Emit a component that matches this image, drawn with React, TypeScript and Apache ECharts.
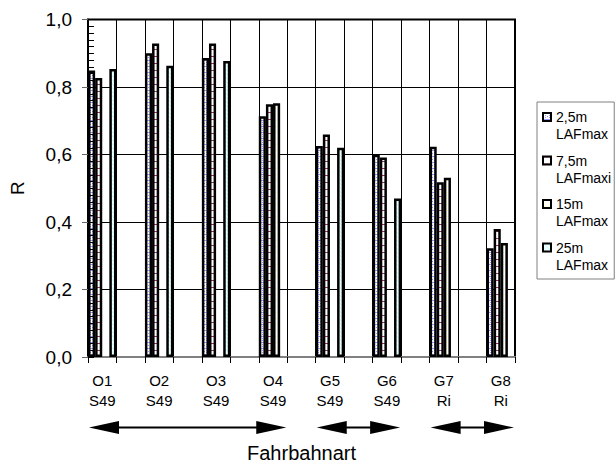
import React, { useEffect, useRef } from 'react';
import * as echarts from 'echarts';

// ---- data ----
const groups = ['O1', 'O2', 'O3', 'O4', 'G5', 'G6', 'G7', 'G8'];
const subLabels = ['S49', 'S49', 'S49', 'S49', 'S49', 'S49', 'Ri', 'Ri'];
const seriesNames = ['2,5m\nLAFmax', '7,5m\nLAFmaxi', '15m\nLAFmax', '25m\nLAFmax'];
const r2_5m = [0.849, 0.900, 0.886, 0.713, 0.625, 0.599, 0.623, 0.322];
const r7_5m = [0.827, 0.929, 0.929, 0.749, 0.659, 0.591, 0.518, 0.379];
const r15m = [null, null, null, 0.752, null, null, 0.531, 0.338];
const r25m = [0.853, 0.863, 0.877, null, 0.620, 0.470, null, null];
const yTickLabels = ['0,0', '0,2', '0,4', '0,6', '0,8', '1,0'];
const arrowSpans = [[0, 3], [4, 5], [6, 7]];

const FONT = 'Liberation Sans, Arial, sans-serif';

function makeTile(w: number, h: number, fg: string, fn: (x: number, y: number) => boolean) {
  const c = document.createElement('canvas');
  c.width = w;
  c.height = h;
  const ctx = c.getContext('2d')!;
  ctx.fillStyle = '#ffffff';
  ctx.fillRect(0, 0, w, h);
  ctx.fillStyle = fg;
  for (let x = 0; x < w; x++) for (let y = 0; y < h; y++) if (fn(x, y)) ctx.fillRect(x, y, 1, 1);
  return { image: c.toDataURL(), repeat: 'repeat', imageWidth: w, imageHeight: h } as any;
}

export default function App() {
  const ref = useRef<HTMLDivElement>(null);
  useEffect(() => {
    document.body.style.margin = '0';
    const chart = echarts.init(ref.current!, undefined, { renderer: 'svg' });

    const cats: string[] = [];
    groups.forEach((g, i) => {
      cats.push(g + '\n' + subLabels[i]);
      if (i < groups.length - 1) cats.push('_' + i);
    });
    const spread = (arr: (number | null)[]) => {
      const out: (number | null)[] = [];
      arr.forEach((v, i) => {
        out.push(v);
        if (i < arr.length - 1) out.push(null);
      });
      return out;
    };

    const patterns = [
      makeTile(4, 6, '#9999FF', (x, y) => (x === 2 && y % 2 === 0) || (y === 0 && x !== 2) || (y === 3 && x === 0)),
      makeTile(4, 7, '#993366', (x, y) => y === 0),
      makeTile(4, 6, '#FFFFCC', (x, y) => (x === 2 && y % 2 === 0) || (y === 0 && x !== 2)),
      makeTile(4, 4, '#CCFFFF', (x, y) => (x - y + 8) % 4 < 2),
    ];
    const values = [r2_5m, r7_5m, r15m, r25m];

    const option: any = {
      animation: false,
      textStyle: { fontFamily: FONT, color: '#000' },
      grid: { left: 86, right: 100, top: 19.5, bottom: 105.5, show: true, borderColor: '#000', borderWidth: 2, containLabel: false },
      legend: {
        orient: 'vertical',
        left: 537,
        top: 102,
        padding: [6.5, 3, 6, 5],
        itemGap: 9.5,
        itemWidth: 8,
        itemHeight: 25,
        icon: 'path://M0,0L8,0L8,8L0,8Z M0,25L0.01,25',
        itemStyle: { borderColor: '#000', borderWidth: 2 },
        borderColor: '#808080',
        borderWidth: 1,
        selectedMode: false,
        textStyle: { fontSize: 14, lineHeight: 17, color: '#000', fontFamily: FONT },
        data: seriesNames,
      },
      xAxis: {
        type: 'category',
        data: cats,
        name: 'Fahrbahnart',
        nameLocation: 'middle',
        nameGap: 86,
        nameTextStyle: { fontSize: 20, color: '#000', fontFamily: FONT },
        axisLine: { lineStyle: { color: '#808080', width: 2 } },
        axisTick: { show: true, interval: 0, length: 6, lineStyle: { color: '#000', width: 1 } },
        splitLine: { show: true, interval: 0, lineStyle: { color: '#000', width: 1 } },
        axisLabel: {
          interval: 0,
          fontSize: 15,
          lineHeight: 20,
          margin: 13,
          color: '#000',
          fontFamily: FONT,
          formatter: (v: string) => (v.charAt(0) === '_' ? '' : v),
        },
      },
      yAxis: [
        {
          type: 'value',
          min: 0,
          max: 1,
          interval: 0.2,
          name: 'R',
          nameLocation: 'middle',
          nameGap: 61,
          nameRotate: 90,
          nameTextStyle: { fontSize: 19, color: '#000', fontFamily: FONT },
          axisLine: { show: true, lineStyle: { color: '#000', width: 2 } },
          axisTick: { show: true, length: 6, lineStyle: { color: '#666', width: 1 } },
          axisLabel: {
            fontSize: 19,
            margin: 16,
            color: '#000',
            fontFamily: FONT,
            formatter: (v: number) => yTickLabels[Math.round(v / 0.2)],
          },
          splitLine: { show: true, lineStyle: { color: '#000', width: 1 } },
        },
        {
          type: 'value',
          min: 0,
          max: 1,
          interval: 0.02,
          position: 'left',
          z: 5,
          axisLine: { show: false },
          axisTick: { show: true, inside: true, length: 6, lineStyle: { color: '#000', width: 1 } },
          axisLabel: { show: false },
          splitLine: { show: false },
        },
      ],
      series: seriesNames.map((name, i) => ({
        name,
        type: 'bar',
        yAxisIndex: 0,
        barGap: '0%',
        barCategoryGap: '0%',
        itemStyle: { color: patterns[i], borderColor: '#000', borderWidth: 2.5 },
        data: spread(values[i]),
      })),
    };
    chart.setOption(option);

    const px = (i: number) => chart.convertToPixel({ xAxisIndex: 0 }, i) as number;
    const band = px(1) - px(0);
    const yBase = chart.convertToPixel({ yAxisIndex: 0 }, 0) as number;
    const ay = yBase + 70.5;
    const head = 30;
    const hh = 6.5;
    const elements: any[] = [];
    arrowSpans.forEach(([a, b]) => {
      const x1 = px(2 * a) - band / 2 + 1;
      const x2 = px(2 * b) + band / 2 - 1;
      elements.push({
        type: 'line',
        shape: { x1: x1 + head - 5, y1: ay, x2: x2 - head + 5, y2: ay },
        style: { stroke: '#000', lineWidth: 2 },
      });
      elements.push({
        type: 'polygon',
        shape: { points: [[x1, ay], [x1 + head, ay - hh], [x1 + head, ay + hh]] },
        style: { fill: '#000' },
      });
      elements.push({
        type: 'polygon',
        shape: { points: [[x2, ay], [x2 - head, ay - hh], [x2 - head, ay + hh]] },
        style: { fill: '#000' },
      });
    });
    chart.setOption({ graphic: elements });

    return () => chart.dispose();
  }, []);
  return <div ref={ref} style={{ width: 615, height: 468 }} />;
}
